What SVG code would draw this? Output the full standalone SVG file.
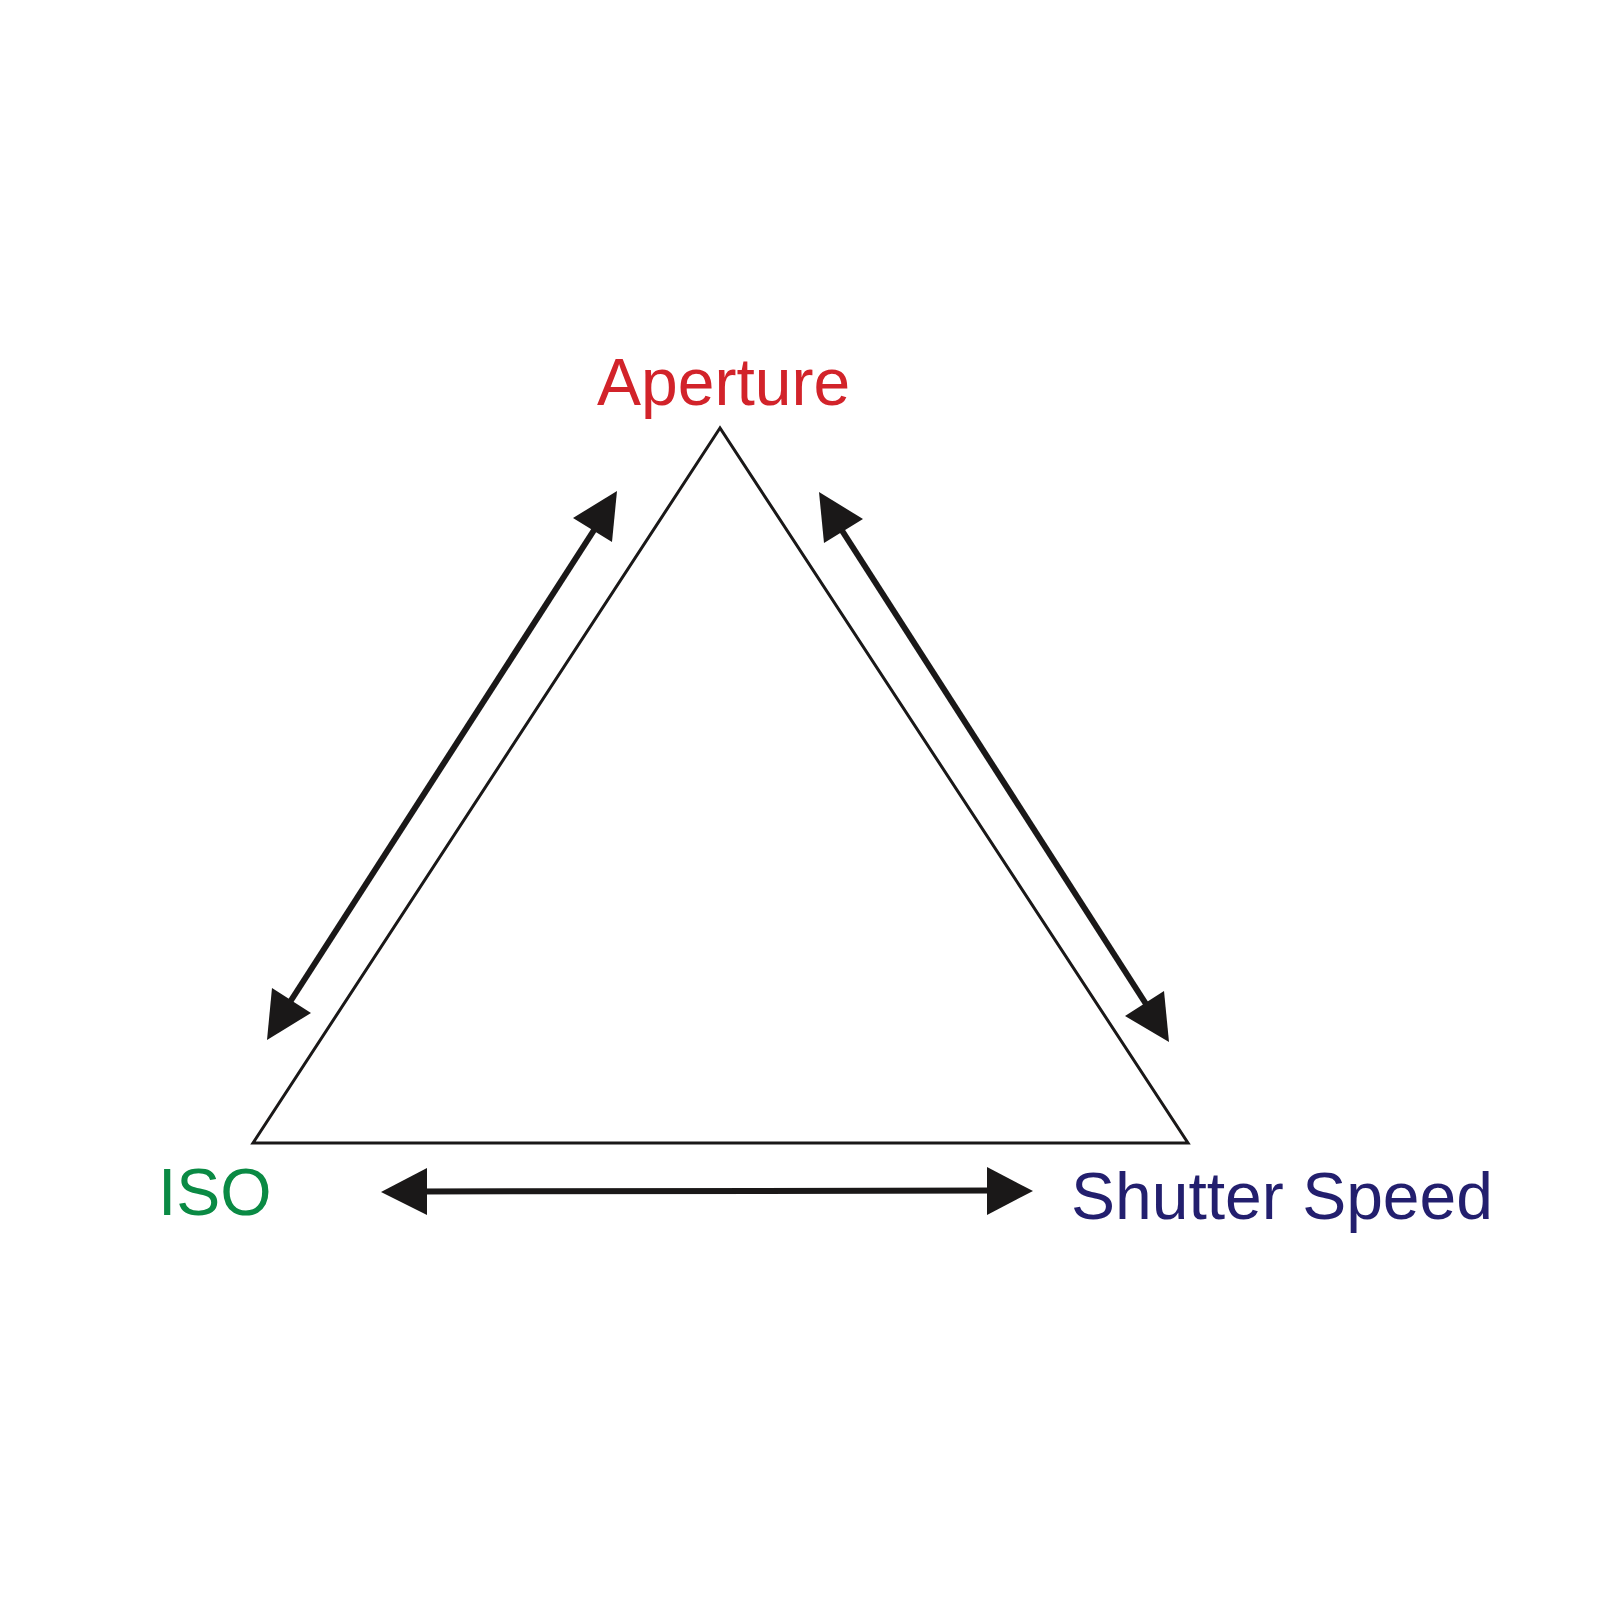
<svg xmlns="http://www.w3.org/2000/svg" width="1600" height="1600" viewBox="0 0 1600 1600">
<style>
.lbl{font-family:"Liberation Sans",Arial,sans-serif;font-size:66px}
.ln{stroke:#1a1818;stroke-width:6;fill:none}
.hd{fill:#1a1818}
</style>
<rect width="1600" height="1600" fill="#fff"/>
<g id="triangle"><polygon points="720,428 253,1143 1188,1143" fill="none" stroke="#1a1818" stroke-width="3"/></g>
<g id="aperture"><text class="lbl" x="597" y="405" fill="#d2232a">Aperture</text></g>
<g id="iso"><text class="lbl" x="158" y="1215" fill="#0a8a44">ISO</text></g>
<g id="shutter"><text class="lbl" x="1071" y="1219" fill="#231f6e">Shutter Speed</text></g>
<g id="connectors">
<line class="ln" x1="596" y1="527" x2="290" y2="1002"/>
<polygon class="hd" points="617,491 612,542 573,518"/>
<polygon class="hd" points="267,1040 272,988 311,1013"/>
<line class="ln" x1="841" y1="529" x2="1146" y2="1004"/>
<polygon class="hd" points="819,492 863,519 824,543"/>
<polygon class="hd" points="1169,1042 1164,991 1125,1016"/>
<line class="ln" x1="420" y1="1191.5" x2="995" y2="1190.5"/>
<polygon class="hd" points="381,1192 427,1168 427,1215"/>
<polygon class="hd" points="1033,1191 987,1167 987,1215"/>
</g>
</svg>
